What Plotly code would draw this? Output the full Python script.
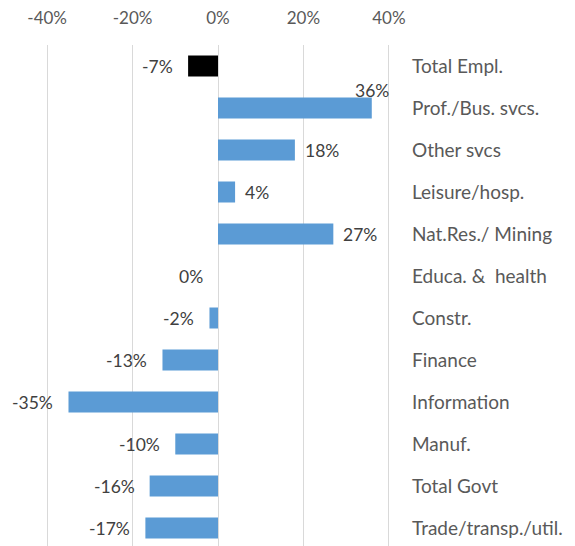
import plotly.graph_objects as go

categories = ["Total Empl.", "Prof./Bus. svcs.", "Other svcs", "Leisure/hosp.",
              "Nat.Res./ Mining", "Educa. &  health", "Constr.", "Finance",
              "Information", "Manuf.", "Total Govt", "Trade/transp./util."]
values = [-7, 36, 18, 4, 27, 0, -2, -13, -35, -10, -16, -17]
tick_vals = [-40, -20, 0, 20, 40]
tick_text = ["-40%", "-20%", "0%", "20%", "40%"]

colors = ["#000000" if c == "Total Empl." else "#5B9BD5" for c in categories]
FONT = "Lato"

fig = go.Figure(go.Bar(
    x=values, y=categories, orientation="h",
    marker=dict(color=colors, line=dict(width=0)),
    width=0.5, hoverinfo="skip",
))

annotations = []
for c, v in zip(categories, values):
    txt = f"{v}%"
    if v > 32:
        annotations.append(dict(x=v, y=c, text=txt, xanchor="right", xshift=19,
                                yshift=18, showarrow=False))
    elif v > 0:
        annotations.append(dict(x=v, y=c, text=txt, xanchor="left", xshift=8,
                                showarrow=False))
    else:
        annotations.append(dict(x=v, y=c, text=txt, xanchor="right", xshift=-13,
                                showarrow=False))
for a in annotations:
    a["font"] = dict(family=FONT, size=17.5, color="#404040")

fig.update_layout(
    width=575, height=546,
    margin=dict(l=37, r=192, t=37, b=5),
    plot_bgcolor="white", paper_bgcolor="white",
    showlegend=False,
    annotations=annotations,
    xaxis=dict(side="top", range=[-40.5, 40.5], tickvals=tick_vals, ticktext=tick_text,
               showgrid=True, gridcolor="#D9D9D9", gridwidth=1.3,
               zeroline=True, zerolinecolor="#D9D9D9", zerolinewidth=1.3,
               showline=False, ticks="", ticklabelstandoff=17, automargin=False,
               tickfont=dict(family=FONT, size=17, color="#595959")),
    yaxis=dict(side="right", autorange="reversed", showgrid=False, zeroline=False,
               showline=False, ticks="", ticklabelstandoff=20, automargin=False,
               tickfont=dict(family=FONT, size=19, color="#595959")),
)

fig.write_html("out.html")
